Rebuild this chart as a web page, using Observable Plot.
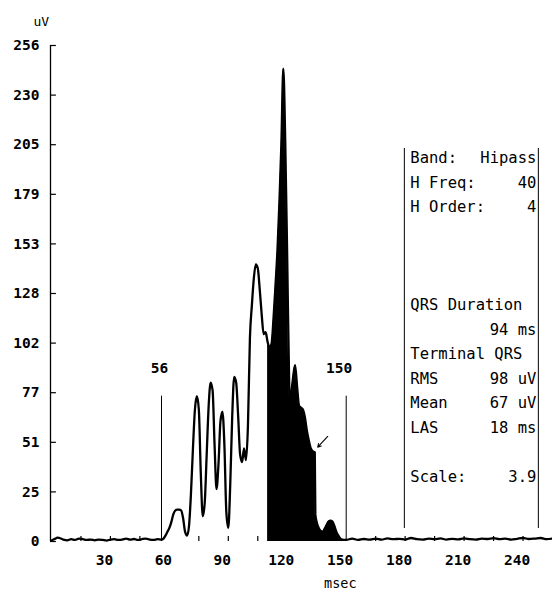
<!DOCTYPE html>
<html>
<head>
<meta charset="utf-8">
<script src="https://cdn.jsdelivr.net/npm/d3@7"></script>
<script src="https://cdn.jsdelivr.net/npm/@observablehq/plot@0.6"></script>
<style>
  html, body { margin: 0; padding: 0; background: #fff; }
  #chart svg { display: block; }
</style>
</head>
<body>
<div id="chart"></div>
<script>
// ---- data ----
const timeMs = [
  0, 2, 3, 4, 6, 8, 10, 12, 14, 16, 18, 20, 22, 24, 26, 28, 30, 32, 34, 36, 38, 40, 42, 44, 46, 48, 50, 52, 54,
  56, 57, 58, 59, 60, 61, 62, 63, 64, 65, 66, 67, 68, 69, 70, 71, 72, 73, 74, 75, 76, 77, 78, 79,
  80, 81, 82, 83, 84, 85, 86, 87, 88, 89, 90, 91, 92, 93, 94, 95, 96, 97, 98, 99, 100,
  101, 102, 103, 104, 105, 106, 107, 108, 109, 110, 111, 112, 113, 114, 115, 116, 117, 118,
  119, 120, 121, 121.5, 122, 123, 124, 125, 126, 127, 128, 129, 130, 131, 132, 133, 134, 134.3,
  135, 136, 137, 138, 139, 140, 141, 142, 143, 144, 145, 146, 147, 148, 150,
  153, 156, 159, 162, 165, 168, 171, 174, 177, 180, 183, 186, 189, 192, 195, 198, 201, 204, 207,
  210, 213, 216, 219, 222, 225, 228, 231, 234, 237, 240, 243, 246, 249, 252, 255
];
const amplitudeUv = [
  0.5, 1.5, 2, 1.8, 1, 0.6, 1.2, 0.8, 1.5, 1.2, 0.8, 1, 0.6, 1, 0.8, 0.5, 1, 1.2, 0.8, 1, 1.5, 1, 1.3, 0.8, 1.2, 1.5, 1, 0.8, 1.2,
  1, 1.5, 3, 5, 7, 10, 14, 16, 16.5, 16.5, 16, 12, 5, 3, 8, 25, 48, 68, 75, 68, 35, 13, 20, 45,
  70, 82, 78, 50, 27, 40, 62, 67, 50, 15, 7, 30, 65, 85, 82, 65, 45, 41, 48, 42, 60,
  105, 122, 136, 143, 141, 130, 117, 107, 108, 103, 100, 102, 115, 132, 150, 175, 205, 244,
  205, 145, 80, 67, 75, 85, 91, 80, 70, 69, 68, 64, 57, 52, 48, 46.5, 46, 14,
  10, 7, 5.5, 5, 6.5, 8.5, 10.3, 10.8, 10.3, 8, 5, 3, 1.5, 1, 0.8,
  1.5, 0.8, 1.3, 1, 1.5, 1, 1.6, 1.2, 1.4, 1, 1.8, 1.2, 1, 1.5, 1.2, 1.6, 1, 1.4, 1.1,
  1.6, 1.2, 1, 1.5, 1.3, 1.7, 1.2, 1.5, 1, 1.4, 1.8, 1.3, 1.5, 1.8, 1.2, 1.5
];
const fillStartMs = 110;
const fillEndMs = 150;

const yTickValues = [0, 25.6, 51.2, 76.8, 102.4, 128, 153.6, 179.2, 204.8, 230.4, 256];
const yTickLabels = ["0", "25", "51", "77", "102", "128", "153", "179", "205", "230", "256"];
const xTickValues = [30, 60, 90, 120, 150, 180, 210, 240];
const xTickLabels = ["30", "60", "90", "120", "150", "180", "210", "240"];
const xMinorTicks = [15, 30, 45, 75, 90, 105, 135, 165, 180, 195, 210, 225, 240];

const markerStartMs = 56, markerEndMs = 150;
const markerStartLabel = "56", markerEndLabel = "150";
const markerTopUv = 75;

const arrowFrom = {t: 140.6, v: 54.2};
const arrowTo = {t: 135.5, v: 48.7};

const panelLeftText = ["Band:", "H Freq:", "H Order:", "QRS Duration", "", "Terminal QRS", "RMS", "Mean", "LAS", "Scale:"];
const panelRightText = ["Hipass", "40", "4", "", "94 ms", "", "98 uV", "67 uV", "18 ms", "3.9"];
const panelRowIndex = [0, 1, 2, 6, 7, 8, 9, 10, 11, 13];
const panelEdgesMs = [179.6, 247.8];

// ---- build ----
const wave = timeMs.map((t, i) => ({t, v: amplitudeUv[i]}));
const filled = wave.filter(d => d.t >= fillStartMs && d.t <= fillEndMs);

const width = 552, height = 594;
const marginLeft = 50, marginRight = 0, marginTop = 45, marginBottom = 53;
const yDomain = [0, 256];
const pxPerUv = (height - marginTop - marginBottom) / (yDomain[1] - yDomain[0]);
const panelTopPx = 158 - marginTop, panelPitchPx = 24.5;
const rowToUv = r => yDomain[1] - (panelTopPx + r * panelPitchPx) / pxPerUv;
const panelRows = panelRowIndex.map((r, i) => ({v: rowToUv(r), left: panelLeftText[i], right: panelRightText[i]}));
const panelTopUv = yDomain[1] - (148 - marginTop) / pxPerUv;
const panelBottomUv = yDomain[1] - (528 - marginTop) / pxPerUv;

const xDomain = [-0.5, 255];
const pxPerMs = (width - marginLeft - marginRight) / (xDomain[1] - xDomain[0]);
const panelTextLeft = panelEdgesMs[0] + 6 / pxPerMs;
const panelTextRight = panelEdgesMs[1] - 2 / pxPerMs;

const tickFont = {fontFamily: "DejaVu Sans Mono", fontWeight: "bold", fontSize: 14.5};
const panelFont = {fontFamily: "DejaVu Sans Mono", fontSize: 15.5, letterSpacing: 1.1};

const chart = Plot.plot({
  width, height, marginLeft, marginRight, marginTop, marginBottom,
  style: {fontFamily: "DejaVu Sans Mono", background: "#fff", color: "#000", overflow: "visible"},
  x: {domain: xDomain, axis: null},
  y: {domain: yDomain, axis: null},
  marks: [
    // y axis line, ticks and labels
    Plot.ruleX([xDomain[0]], {y1: 0, y2: 256, stroke: "#000", strokeWidth: 1.3}),
    Plot.ruleY(yTickValues, {y: d => d, x1: xDomain[0], x2: xDomain[0] + 3, stroke: "#000", strokeWidth: 1.2}),
    Plot.text(yTickValues, {y: d => d, text: (d, i) => yTickLabels[i], frameAnchor: "left", dx: -11, textAnchor: "end", ...tickFont, fill: "#000"}),
    Plot.text(["uV"], {frameAnchor: "top-left", dx: -17, dy: -29, fontSize: 13, fill: "#000"}),
    // x ticks and labels
    Plot.ruleX(xMinorTicks, {x: d => d, y1: 0, y2: 2.6, stroke: "#000", strokeWidth: 1.2}),
    Plot.text(xTickValues, {x: d => d, text: (d, i) => xTickLabels[i], frameAnchor: "bottom", dy: 23, dx: -6, ...tickFont, fill: "#000"}),
    Plot.text(["msec"], {x: 147, frameAnchor: "bottom", dy: 46, fontSize: 13.5, fill: "#000", letterSpacing: 0.5}),
    // QRS marker lines
    Plot.ruleX([markerStartMs, markerEndMs], {x: d => d, y1: 0, y2: markerTopUv, stroke: "#000", strokeWidth: 1}),
    Plot.text([markerStartMs], {x: d => d, y: markerTopUv, text: [markerStartLabel], dy: -28, dx: -2, ...tickFont, fill: "#000"}),
    Plot.text([markerEndMs], {x: d => d, y: markerTopUv, text: [markerEndLabel], dy: -28, dx: -7, ...tickFont, fill: "#000"}),
    // filled terminal region
    Plot.areaY(filled, {x: "t", y: "v", fill: "#000", curve: "monotone-x"}),
    // waveform
    Plot.line(wave, {x: "t", y: "v", stroke: "#000", strokeWidth: 2.3, curve: "monotone-x"}),
    // arrow
    Plot.arrow([{a: arrowFrom, b: arrowTo}], {x1: d => d.a.t, y1: d => d.a.v, x2: d => d.b.t, y2: d => d.b.v, stroke: "#000", strokeWidth: 1.1, headLength: 5}),
    // info panel
    Plot.ruleX(panelEdgesMs, {x: d => d, y1: panelBottomUv, y2: panelTopUv, stroke: "#000", strokeWidth: 1}),
    Plot.text(panelRows, {x: panelTextLeft, y: "v", text: "left", textAnchor: "start", ...panelFont, fill: "#000"}),
    Plot.text(panelRows, {x: panelTextRight, y: "v", text: "right", textAnchor: "end", ...panelFont, fill: "#000"})
  ]
});
document.getElementById("chart").appendChild(chart);
</script>
</body>
</html>
